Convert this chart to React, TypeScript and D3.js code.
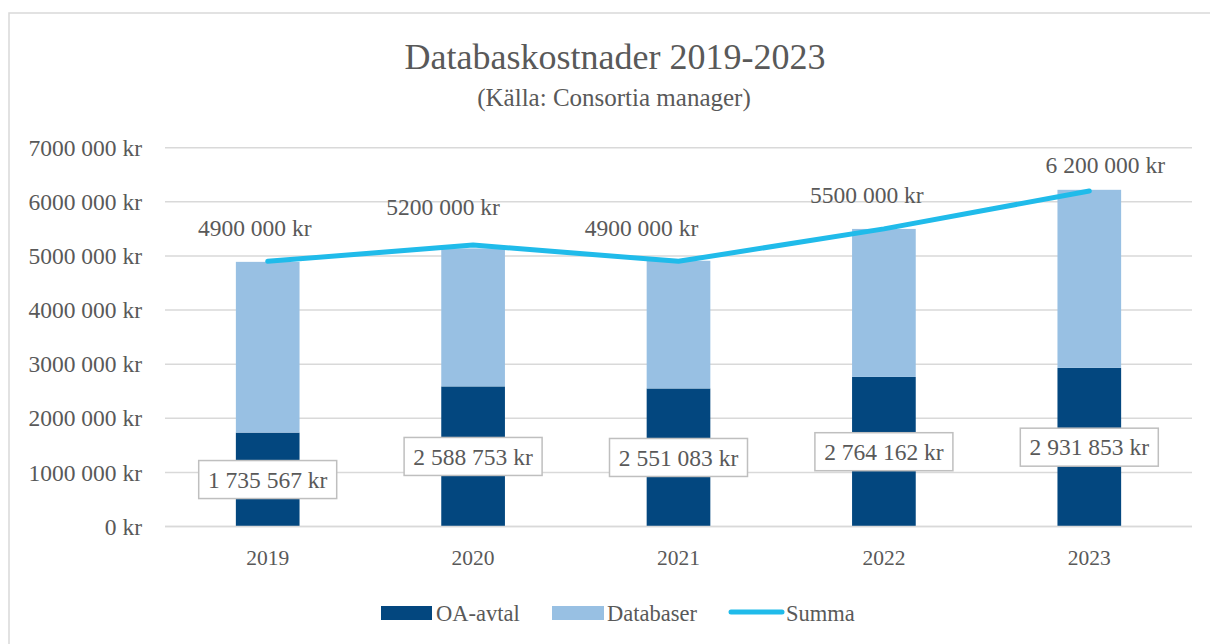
import React from "react";
import * as d3 from "d3";

const years = ["2019", "2020", "2021", "2022", "2023"];
const oaAvtal = [1735567, 2588753, 2551083, 2764162, 2931853];
const databaser = [3155000, 2550000, 2360000, 2735000, 3290000];
const summa = [4900000, 5200000, 4900000, 5500000, 6200000];
const summaLabels = ["4900 000 kr", "5200 000 kr", "4900 000 kr", "5500 000 kr", "6 200 000 kr"];
const oaLabels = ["1 735 567 kr", "2 588 753 kr", "2 551 083 kr", "2 764 162 kr", "2 931 853 kr"];
const yTicks = [0, 1000000, 2000000, 3000000, 4000000, 5000000, 6000000, 7000000];
const yTickLabels = ["0 kr", "1000 000 kr", "2000 000 kr", "3000 000 kr", "4000 000 kr", "5000 000 kr", "6000 000 kr", "7000 000 kr"];
// manual label offsets (px) as placed in the original chart
const summaLabelDx = [-13, -30, -37, -17, 16];
const summaLabelDy = [-34, -38, -34, -34, -26];

const W = 1210, H = 644;
const FONT = "'Liberation Serif', 'Times New Roman', serif";
const TXT = "#595959";
const C_OA = "#03477F";
const C_DB = "#98C0E3";
const C_SUM = "#20BBEA";
const GRID = "#D9D9D9";

export default function App() {
  const x = d3.scaleBand<string>().domain(years).range([165, 1192]).paddingInner(0.69).paddingOuter(0.345);
  const y = d3.scaleLinear().domain([0, 7000000]).range([526.5, 147.7]);
  const cx = (i: number) => (x(years[i]) as number) + x.bandwidth() / 2;
  const line = d3.line<number>().x((_, i) => cx(i)).y((v) => y(v));

  return (
    <svg width={W} height={H} style={{ position: "absolute", left: 0, top: 0, background: "#fff" }} fontFamily={FONT}>
      <rect x={9} y={13} width={W} height={H} fill="#fff" stroke="#D9D9D9" strokeWidth={1.5} />
      <text x={615} y={69} textAnchor="middle" fontSize={36} fill={TXT}>Databaskostnader 2019-2023</text>
      <text x={614} y={106} textAnchor="middle" fontSize={25} fill={TXT}>(Källa: Consortia manager)</text>

      {yTicks.map((t, i) => (
        <g key={t}>
          <line x1={165} x2={1192} y1={y(t)} y2={y(t)} stroke={GRID} strokeWidth={1.5} />
          <text x={142} y={y(t)} dy="0.35em" textAnchor="end" fontSize={23.5} fill={TXT}>{yTickLabels[i]}</text>
        </g>
      ))}

      {years.map((yr, i) => (
        <g key={yr}>
          <rect x={x(yr)} width={x.bandwidth()} y={y(oaAvtal[i])} height={y(0) - y(oaAvtal[i])} fill={C_OA} />
          <rect x={x(yr)} width={x.bandwidth()} y={y(oaAvtal[i] + databaser[i])} height={y(oaAvtal[i]) - y(oaAvtal[i] + databaser[i])} fill={C_DB} />
          <text x={cx(i)} y={557} dy="0.35em" textAnchor="middle" fontSize={21.5} fill={TXT}>{yr}</text>
        </g>
      ))}

      <line x1={165} x2={1192} y1={y(0)} y2={y(0)} stroke={GRID} strokeWidth={1.5} />

      <path d={line(summa) || ""} fill="none" stroke={C_SUM} strokeWidth={5} strokeLinecap="round" strokeLinejoin="round" />

      {years.map((yr, i) => {
        const my = (y(0) + y(oaAvtal[i])) / 2;
        return (
          <g key={"oa" + yr}>
            <rect x={cx(i) - 69} y={my - 19} width={138} height={38} fill="#fff" stroke="#BFBFBF" strokeWidth={1.5} />
            <text x={cx(i)} y={my} dy="0.35em" textAnchor="middle" fontSize={23.5} fill={TXT}>{oaLabels[i]}</text>
          </g>
        );
      })}

      {years.map((yr, i) => (
        <text key={"s" + yr} x={cx(i) + summaLabelDx[i]} y={y(summa[i]) + summaLabelDy[i]} dy="0.35em" textAnchor="middle" fontSize={23.5} fill={TXT}>{summaLabels[i]}</text>
      ))}

      <g fontSize={22.5} fill={TXT}>
        <rect x={381} y={606} width={51} height={14} fill={C_OA} />
        <text x={436} y={613} dy="0.35em">OA-avtal</text>
        <rect x={552} y={606} width={52} height={14} fill={C_DB} />
        <text x={607} y={613} dy="0.35em">Databaser</text>
        <line x1={731} x2={782} y1={612} y2={612} stroke={C_SUM} strokeWidth={5} strokeLinecap="round" />
        <text x={786} y={613} dy="0.35em">Summa</text>
      </g>
    </svg>
  );
}
